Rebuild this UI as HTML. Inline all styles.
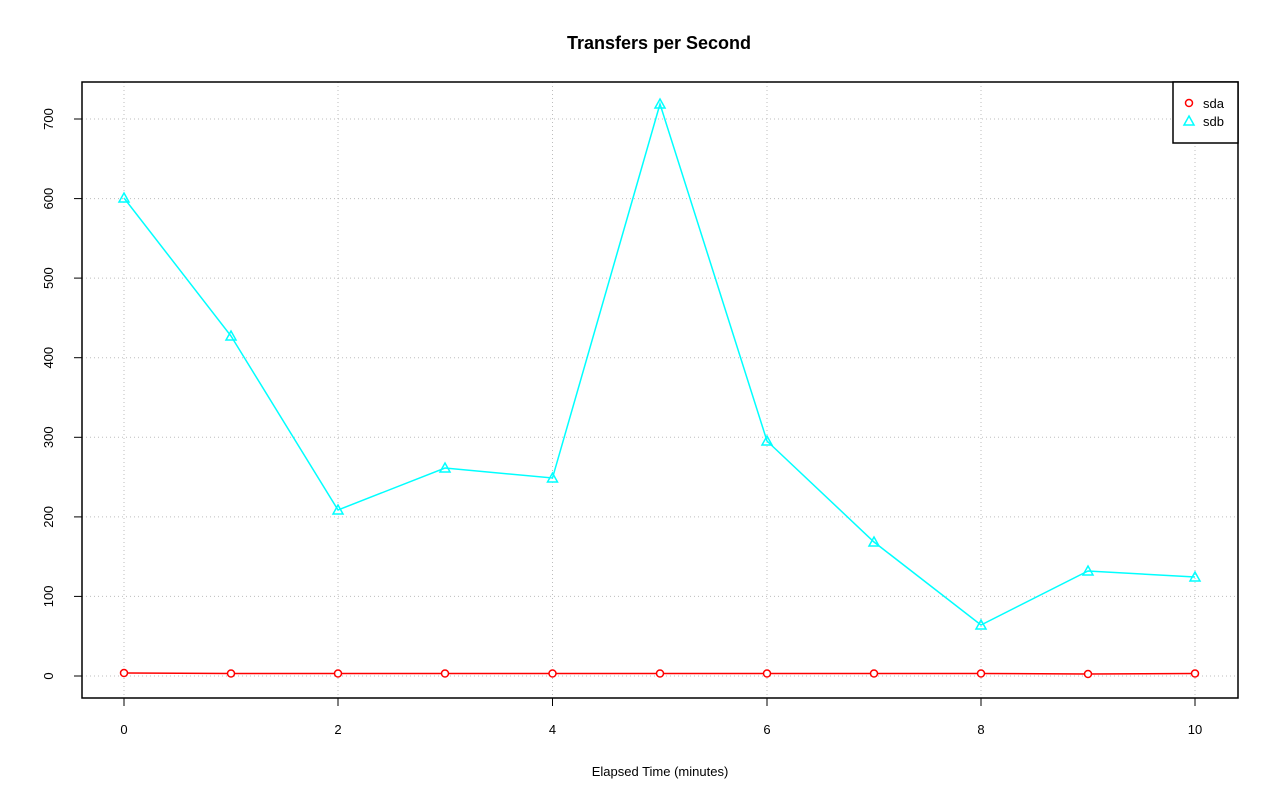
<!DOCTYPE html>
<html><head><style>body{margin:0;background:#fff}svg{display:block}text{font-family:"Liberation Sans",sans-serif}</style></head>
<body>
<svg width="1280" height="801" viewBox="0 0 1280 801" xmlns="http://www.w3.org/2000/svg">
<rect width="1280" height="801" fill="#fff"/>
<text x="659" y="49" text-anchor="middle" font-size="18" font-weight="bold">Transfers per Second</text>
<g stroke="#bdbdbd" stroke-dasharray="1,3" stroke-width="1">
<line x1="124" y1="82" x2="124" y2="698"/><line x1="338" y1="82" x2="338" y2="698"/><line x1="552.5" y1="82" x2="552.5" y2="698"/><line x1="767" y1="82" x2="767" y2="698"/><line x1="981" y1="82" x2="981" y2="698"/><line x1="1195" y1="82" x2="1195" y2="698"/>
<line x1="82" y1="676" x2="1238" y2="676"/><line x1="82" y1="596.4" x2="1238" y2="596.4"/><line x1="82" y1="516.9" x2="1238" y2="516.9"/><line x1="82" y1="437.3" x2="1238" y2="437.3"/><line x1="82" y1="357.7" x2="1238" y2="357.7"/><line x1="82" y1="278.1" x2="1238" y2="278.1"/><line x1="82" y1="198.6" x2="1238" y2="198.6"/><line x1="82" y1="119" x2="1238" y2="119"/>
</g>
<polyline fill="none" stroke="#00ffff" stroke-width="1.5" points="124,198 231,336 338,510 445,468 552.5,478 660,104 767,441 874,542 981,625 1088,571 1195,577"/>
<polyline fill="none" stroke="#ff0000" stroke-width="1.5" points="124,673 231,673.5 338,673.5 445,673.5 552.5,673.5 660,673.5 767,673.5 874,673.5 981,673.5 1088,674 1195,673.5"/>
<g fill="none" stroke="#00ffff" stroke-width="1.5">
<path d="M124,193 l5,9 h-10z"/><path d="M231,331 l5,9 h-10z"/><path d="M338,505 l5,9 h-10z"/><path d="M445,463 l5,9 h-10z"/><path d="M552.5,473 l5,9 h-10z"/><path d="M660,99 l5,9 h-10z"/><path d="M767,436 l5,9 h-10z"/><path d="M874,537 l5,9 h-10z"/><path d="M981,620 l5,9 h-10z"/><path d="M1088,566 l5,9 h-10z"/><path d="M1195,572 l5,9 h-10z"/>
</g>
<g fill="#fff" stroke="#ff0000" stroke-width="1.5">
<circle cx="124" cy="673" r="3.5"/><circle cx="231" cy="673.5" r="3.5"/><circle cx="338" cy="673.5" r="3.5"/><circle cx="445" cy="673.5" r="3.5"/><circle cx="552.5" cy="673.5" r="3.5"/><circle cx="660" cy="673.5" r="3.5"/><circle cx="767" cy="673.5" r="3.5"/><circle cx="874" cy="673.5" r="3.5"/><circle cx="981" cy="673.5" r="3.5"/><circle cx="1088" cy="674" r="3.5"/><circle cx="1195" cy="673.5" r="3.5"/>
</g>
<rect x="82" y="82" width="1156" height="616" fill="none" stroke="#000" stroke-width="1.5"/>
<rect x="1173" y="82" width="65" height="61" fill="#fff" stroke="#000" stroke-width="1.5"/>
<circle cx="1189" cy="103" r="3.5" fill="#fff" stroke="#ff0000" stroke-width="1.5"/>
<path d="M1189,116 l5,9 h-10z" fill="none" stroke="#00ffff" stroke-width="1.5"/>
<text x="1203" y="108" font-size="13">sda</text>
<text x="1203" y="126" font-size="13">sdb</text>
<g stroke="#000" stroke-width="1">
<line x1="124" y1="698" x2="1195" y2="698"/>
<line x1="124" y1="698" x2="124" y2="706"/><line x1="338" y1="698" x2="338" y2="706"/><line x1="552.5" y1="698" x2="552.5" y2="706"/><line x1="767" y1="698" x2="767" y2="706"/><line x1="981" y1="698" x2="981" y2="706"/><line x1="1195" y1="698" x2="1195" y2="706"/>
<line x1="82" y1="119" x2="82" y2="676"/>
<line x1="74" y1="676" x2="82" y2="676"/><line x1="74" y1="596.4" x2="82" y2="596.4"/><line x1="74" y1="516.9" x2="82" y2="516.9"/><line x1="74" y1="437.3" x2="82" y2="437.3"/><line x1="74" y1="357.7" x2="82" y2="357.7"/><line x1="74" y1="278.1" x2="82" y2="278.1"/><line x1="74" y1="198.6" x2="82" y2="198.6"/><line x1="74" y1="119" x2="82" y2="119"/>
</g>
<g font-size="13" text-anchor="middle">
<text x="124" y="734">0</text><text x="338" y="734">2</text><text x="552.5" y="734">4</text><text x="767" y="734">6</text><text x="981" y="734">8</text><text x="1195" y="734">10</text>
<text x="660" y="776">Elapsed Time (minutes)</text>
</g>
<g font-size="13" text-anchor="middle">
<text transform="translate(53,676) rotate(-90)">0</text>
<text transform="translate(53,596.4) rotate(-90)">100</text>
<text transform="translate(53,516.9) rotate(-90)">200</text>
<text transform="translate(53,437.3) rotate(-90)">300</text>
<text transform="translate(53,357.7) rotate(-90)">400</text>
<text transform="translate(53,278.1) rotate(-90)">500</text>
<text transform="translate(53,198.6) rotate(-90)">600</text>
<text transform="translate(53,119) rotate(-90)">700</text>
</g>
</svg>
</body></html>
